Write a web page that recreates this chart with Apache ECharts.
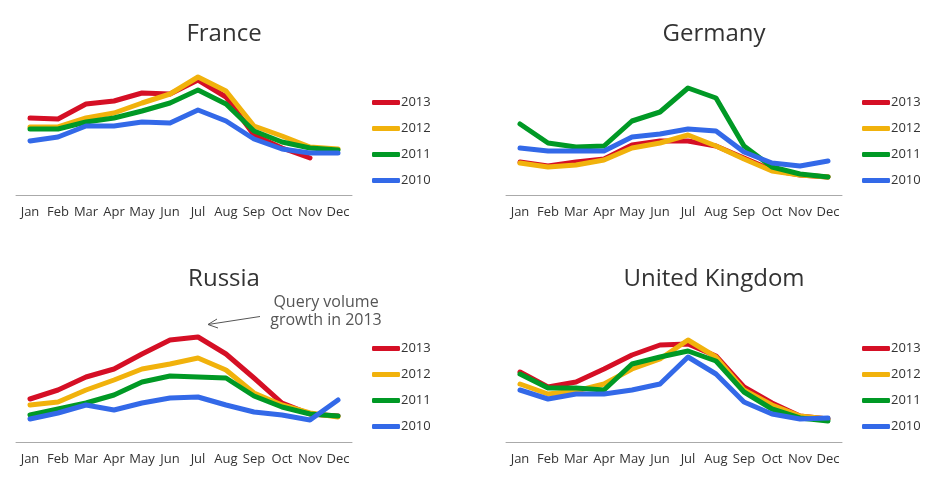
<!DOCTYPE html>
<html><head><meta charset="utf-8">
<script src="https://cdn.jsdelivr.net/npm/echarts@6/dist/echarts.min.js"></script>
<style>html,body{margin:0;padding:0;background:#fff}#c{width:943px;height:480px}</style>
</head><body><div id="c"></div>
<script>
const months = ['Jan','Feb','Mar','Apr','May','Jun','Jul','Aug','Sep','Oct','Nov','Dec'];
const years = ['2013','2012','2011','2010'];
const countries = ['France','Germany','Russia','United Kingdom'];

const france2013 = [77, 76, 91, 94, 102, 101, 115, 98, 60, 47, 37, null];
const france2012 = [68, 68, 77, 82, 92, 101, 118, 104, 69, 59, 48, 46];
const france2011 = [66, 66, 73, 77, 84, 92, 105, 91, 64, 53, 47, 45];
const france2010 = [54, 58, 69, 69, 73, 72, 85, 74, 56, 46, 42, 42];

const germany2013 = [33, 29, 33, 36, 50, 54, 54, 49, 37, 25, 20, 18];
const germany2012 = [32, 28, 30, 35, 47, 52, 60, 49, 36, 24, 20, 18];
const germany2011 = [71, 52, 48, 49, 74, 83, 107, 97, 49, 28, 21, 18];
const germany2010 = [47, 44, 44, 44, 58, 61, 66, 64, 43, 32, 29, 34];

const russia2013 = [43, 52, 65, 73, 88, 102, 105, 88, 64, 39, 28, 26];
const russia2012 = [37, 40, 52, 62, 73, 78, 84, 72, 49, 37, 29, 25];
const russia2011 = [27, 33, 39, 47, 60, 66, 65, 64, 46, 35, 28, 26];
const russia2010 = [23, 29, 37, 32, 39, 44, 45, 37, 30, 27, 22, 42];

const uk2013 = [70, 55, 60, 73, 87, 97, 98, 86, 55, 39, 26, 23];
const uk2012 = [58, 48, 51, 58, 73, 83, 102, 85, 52, 37, 26, 23];
const uk2011 = [68, 54, 54, 52, 78, 85, 91, 81, 50, 33, 24, 21];
const uk2010 = [52, 43, 48, 48, 52, 58, 85, 68, 40, 28, 23, 24];

const annotation = ['Query volume', 'growth in 2013'];

const dataSets = [
  [france2013, france2012, france2011, france2010],
  [germany2013, germany2012, germany2011, germany2010],
  [russia2013, russia2012, russia2011, russia2010],
  [uk2013, uk2012, uk2011, uk2010]
];
const colors = ['#d50f25', '#f1b20c', '#009925', '#3369e8'];
const FONT = '"Open Sans", "DejaVu Sans", sans-serif';

const panels = [
  {left: 16, right: 591, top: 60, bottom: 285, titleX: 219, titleY: 17, legX: 367, legY: 91},
  {left: 506, right: 101, top: 60, bottom: 285, titleX: 709, titleY: 17, legX: 857, legY: 91},
  {left: 16, right: 591, top: 307, bottom: 38, titleX: 219, titleY: 262, legX: 367, legY: 337},
  {left: 506, right: 101, top: 307, bottom: 38, titleX: 709, titleY: 262, legX: 857, legY: 337}
];

const option = {
  animation: false,
  color: colors,
  textStyle: {fontFamily: FONT},
  title: panels.map((p, i) => ({
    text: countries[i], left: p.titleX, top: p.titleY, textAlign: 'center',
    textStyle: {fontFamily: FONT, fontSize: 24, fontWeight: 'normal', color: '#333'}
  })),
  legend: panels.map(p => ({
    data: years, orient: 'vertical', left: p.legX, top: p.legY,
    itemWidth: 28, itemHeight: 5, itemGap: 13, icon: 'roundRect',
    textStyle: {fontFamily: FONT, fontSize: 13, color: '#333', padding: [0, 0, 0, -4]}
  })),
  grid: panels.map(p => ({left: p.left, right: p.right, top: p.top, bottom: p.bottom, containLabel: false})),
  xAxis: panels.map((p, i) => ({
    type: 'category', gridIndex: i, data: months, boundaryGap: true,
    axisLine: {lineStyle: {color: '#aaa', width: 1}},
    axisTick: {length: 5, lineStyle: {color: '#aaa'}},
    axisLabel: {fontFamily: FONT, fontSize: 13, color: '#333', margin: 11, interval: 0}
  })),
  yAxis: panels.map((p, i) => ({
    type: 'value', gridIndex: i, min: 0, max: 135, show: false, splitLine: {show: false}
  })),
  series: [],
  graphic: [
    {type: 'text', x: 326, y: 293, style: {text: annotation.join('\n'), fill: '#555', font: '16px ' + FONT, align: 'center', verticalAlign: 'top', lineHeight: 18}},
    {type: 'line', shape: {x1: 260, y1: 316.5, x2: 208, y2: 324.5}, style: {stroke: '#555', lineWidth: 1}},
    {type: 'polyline', shape: {points: [[217, 319], [208, 324.5], [218, 328]]}, style: {stroke: '#555', lineWidth: 1, fill: null}}
  ]
};

dataSets.forEach((set, gi) => {
  set.forEach((vals, si) => {
    option.series.push({
      name: years[si], type: 'line', xAxisIndex: gi, yAxisIndex: gi,
      data: vals, showSymbol: false, symbol: 'none', connectNulls: false,
      lineStyle: {width: 5, color: colors[si], join: 'round', cap: 'round'},
      itemStyle: {color: colors[si]}
    });
  });
});

const chart = echarts.init(document.getElementById('c'));
chart.setOption(option);
</script></body></html>
